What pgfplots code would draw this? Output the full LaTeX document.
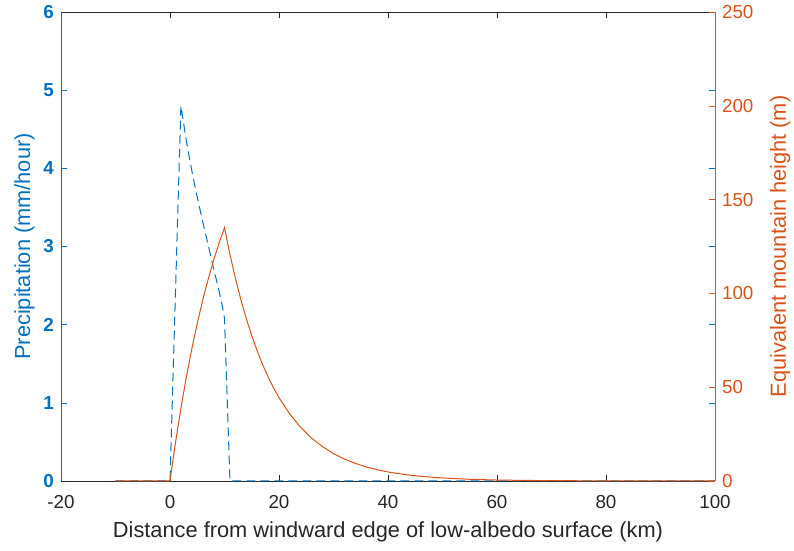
\documentclass[border=0pt]{standalone}
\usepackage{pgfplots}
\pgfplotsset{compat=1.18}
\usepackage{fontspec}
\setmainfont{Liberation Sans}

\definecolor{mblue}{rgb}{0,0.447,0.741}
\definecolor{morange}{rgb}{0.85,0.325,0.098}
\definecolor{mgrey}{rgb}{0.15,0.15,0.15}

\pgfplotsset{
    mstyle/.style={
        width=327pt, height=234.5pt, scale only axis,
        xmin=-20, xmax=100, clip=false,
        tick align=inside, major tick length=3pt,
        /pgf/number format/assume math mode=true,
        tick label style={font=\fontsize{9.4}{11}\selectfont},
        label style={font=\fontsize{10.9}{13}\selectfont},
        every axis plot/.append style={line width=0.5pt},
    },
}

\begin{document}
\begin{tikzpicture}

% left axis: precipitation
\begin{axis}[
    mstyle, name=main,
    separate axis lines,
    ymin=0, ymax=6, ytick={0,...,6},
    xtick={-20,0,...,100}, xticklabels={-20,0,20,40,60,80,100},
    every outer x axis line/.append style={mgrey},
    every outer y axis line/.append style={mblue},
    xtick style={mgrey}, ytick style={mblue},
    xticklabel style={mgrey, yshift=-3.5pt},
    yticklabel style={mblue, font=\fontsize{9.4}{11}\selectfont\bfseries},
    xlabel={Distance from windward edge of low-albedo surface (km)},
    xlabel style={mgrey, yshift=0pt},
    ylabel={Precipitation (mm/hour)},
    ylabel style={mblue, yshift=-2.5pt},
]
\addplot[mblue, dash pattern=on 4.5pt off 2.5pt] coordinates {
    (-10,0) (0,0) (1,2.4) (2,4.8) (3,4.35) (4,3.97) (5,3.63) (6,3.32)
    (7,3.02) (8,2.72) (9,2.43) (9.6,2.24) (10,2.08) (11,0) (100,0)
};
\end{axis}

% right axis: equivalent mountain height
\begin{axis}[
    mstyle,
    axis y line*=right, axis x line=none,
    ymin=0, ymax=250, ytick={0,50,...,250},
    y axis line style={morange}, ytick style={morange},
    yticklabel style={morange},
    ylabel={Equivalent mountain height (m)},
    ylabel style={morange, yshift=-1.5pt},
]
\addplot[morange] coordinates {
    (-10,0) (0,0) (1,20.3) (2,38.7) (3,55.4) (4,70.4) (5,84.0) (6,96.4)
    (7,107.5) (8,117.6) (9,126.8) (10,135.0)
    (11,120.8) (12,108.1) (13,96.7) (14,86.6) (15,77.5) (16,69.3)
    (17,62.0) (18,55.5) (19,49.7) (20,44.4) (22,35.6) (24,28.5)
    (26,22.8) (28,18.3) (30,14.6) (32,11.7) (34,9.4) (36,7.5)
    (38,6.0) (40,4.8) (42,3.9) (44,3.1) (46,2.5) (48,2.0) (50,1.6)
    (55,0.9) (60,0.5) (65,0.3) (70,0.17) (80,0.06) (90,0.02) (100,0.01)
};
\end{axis}

\pgfresetboundingbox
\path[use as bounding box]
    ([xshift=-30.5pt,yshift=-35pt]main.south west)
    rectangle ([xshift=39.5pt,yshift=6pt]main.north east);

\end{tikzpicture}
\end{document}
